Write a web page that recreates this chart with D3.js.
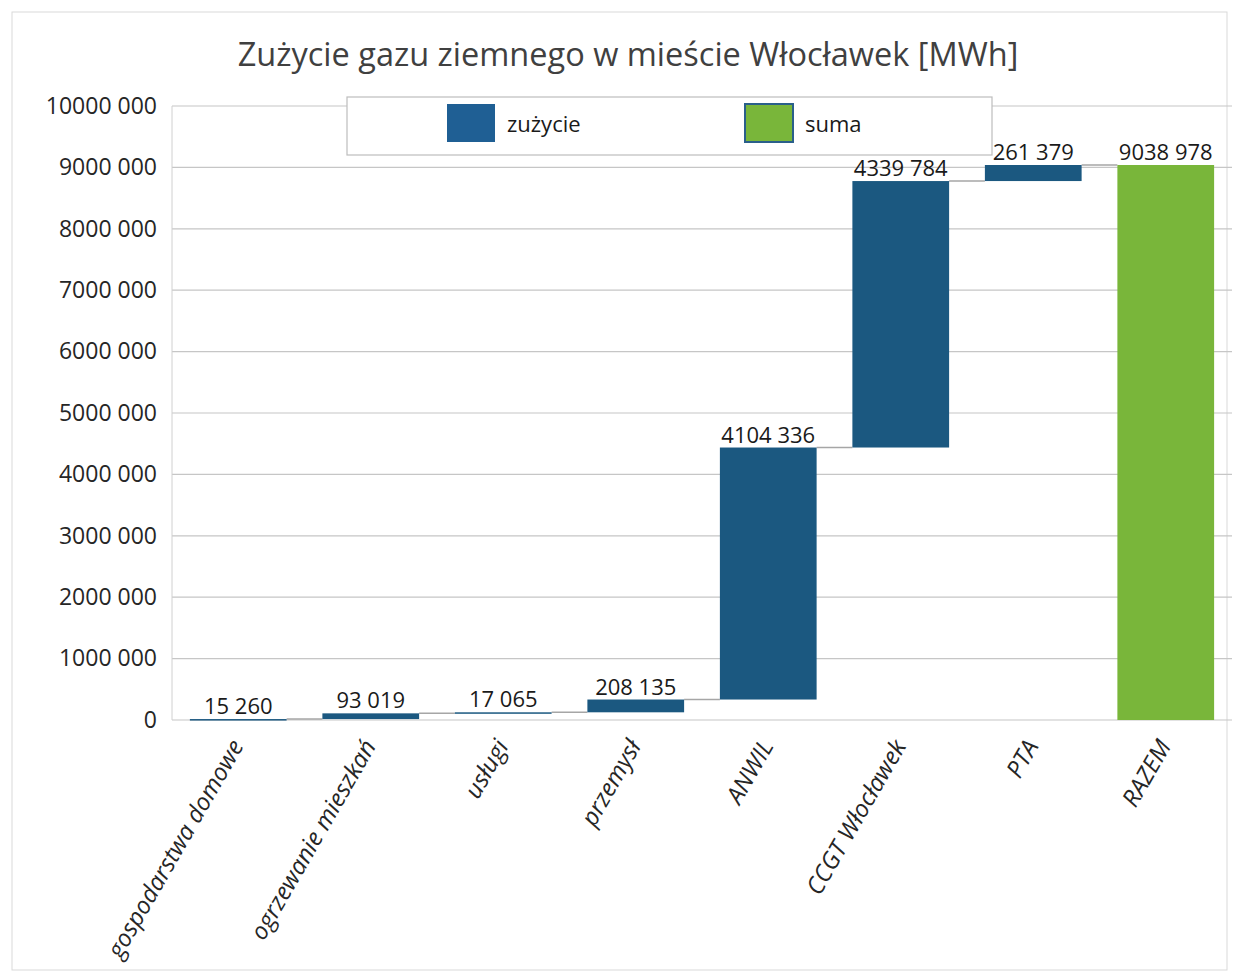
<!DOCTYPE html>
<html><head><meta charset="utf-8">
<script src="https://cdn.jsdelivr.net/npm/d3@7"></script>
<style>
html,body{margin:0;padding:0;background:#fff;}
svg{display:block;font-family:"Open Sans",sans-serif;}
</style></head>
<body>
<svg id="chart" width="1239" height="975"></svg>
<script>
const categories = ["gospodarstwa domowe","ogrzewanie mieszkań","usługi","przemysł","ANWIL","CCGT Włocławek","PTA","RAZEM"];
const values = [15260, 93019, 17065, 208135, 4104336, 4339784, 261379, 9038978];
const isTotal = [false,false,false,false,false,false,false,true];
const valueLabels = ["15 260","93 019","17 065","208 135","4104 336","4339 784","261 379","9038 978"];
const yTicks = [0,1000000,2000000,3000000,4000000,5000000,6000000,7000000,8000000,9000000,10000000];
const yTickLabels = ["0","1000 000","2000 000","3000 000","4000 000","5000 000","6000 000","7000 000","8000 000","9000 000","10000 000"];
const legendItems = ["zużycie","suma"];

const blue = "#1b5880", green = "#79b63a";
const svg = d3.select("#chart");
const m = {left:172, right:1232, top:106, bottom:720};

// outer frame
svg.append("rect").attr("x",12).attr("y",12).attr("width",1215).attr("height",958)
  .attr("fill","none").attr("stroke","#d9d9d9").attr("stroke-width",1);

const x = d3.scaleBand().domain(categories).range([m.left,m.right]).paddingInner(0.27).paddingOuter(0.135);
const y = d3.scaleLinear().domain([0,10000000]).range([m.bottom,m.top]);

// gridlines
svg.append("g").selectAll("line").data(yTicks).join("line")
  .attr("x1",m.left).attr("x2",m.right)
  .attr("y1",d=>y(d)).attr("y2",d=>y(d))
  .attr("stroke","#c6c6c6").attr("stroke-width",1.2);
svg.append("line").attr("x1",m.left).attr("x2",m.left).attr("y1",m.top).attr("y2",m.bottom)
  .attr("stroke","#d0d0d0");

// y axis labels
const yAxis = d3.axisLeft(y).tickValues(yTicks).tickFormat((d,i)=>yTickLabels[i]).tickSize(0).tickPadding(15);
const gy = svg.append("g").attr("transform",`translate(${m.left},0)`).call(yAxis);
gy.select(".domain").remove();
gy.selectAll("text").attr("font-size",23).attr("fill","#262626").attr("font-family","'Open Sans',sans-serif");

// waterfall compute
let run = 0;
const bars = categories.map((c,i)=>{
  let lo, hi;
  if (isTotal[i]) { lo = 0; hi = values[i]; }
  else { lo = run; hi = run + values[i]; run = hi; }
  return {c, lo, hi, total:isTotal[i], label:valueLabels[i]};
});

// connectors
svg.append("g").selectAll("line").data(bars.slice(0,-1)).join("line")
  .attr("x1",(d)=>x(d.c)+x.bandwidth())
  .attr("x2",(d,i)=>x(bars[i+1].c))
  .attr("y1",d=>y(d.hi)).attr("y2",d=>y(d.hi))
  .attr("stroke","#a6a6a6").attr("stroke-width",1.5);

// bars
svg.append("g").selectAll("rect").data(bars).join("rect")
  .attr("x",d=>x(d.c)).attr("width",x.bandwidth())
  .attr("y",d=>y(d.hi)).attr("height",d=>Math.max(1.5,y(d.lo)-y(d.hi)))
  .attr("fill",d=>d.total?green:blue);

// value labels
svg.append("g").selectAll("text").data(bars).join("text")
  .attr("x",d=>x(d.c)+x.bandwidth()/2).attr("y",d=>y(d.hi)-5)
  .attr("text-anchor","middle").attr("font-size",22).attr("fill","#1a1a1a")
  .text(d=>d.label);

// x axis labels
const xAxis = d3.axisBottom(x).tickSize(0).tickPadding(0);
const gx = svg.append("g").attr("transform",`translate(0,${m.bottom})`).call(xAxis);
gx.select(".domain").remove();
gx.selectAll("text").attr("font-size",24).attr("fill","#262626").attr("font-style","italic")
  .attr("font-family","'Open Sans',sans-serif")
  .attr("text-anchor","end").attr("dy",0)
  .attr("transform","translate(6,26) rotate(-60)");

// title
svg.append("text").attr("x",628).attr("y",66).attr("text-anchor","middle")
  .attr("font-size",32.5).attr("fill","#404040").text("Zużycie gazu ziemnego w mieście Włocławek [MWh]");

// legend
const lg = svg.append("g");
lg.append("rect").attr("x",347).attr("y",97).attr("width",645).attr("height",58)
  .attr("fill","#fff").attr("stroke","#bdbdbd").attr("stroke-width",1.2);
const legX = [447, 745];
lg.selectAll("rect.sw").data(legendItems).join("rect").attr("class","sw")
  .attr("x",(d,i)=>legX[i]).attr("y",104).attr("width",48).attr("height",38)
  .attr("fill",(d,i)=>i?green:"#1f5f94").attr("stroke",(d,i)=>i?"#2a5f8a":"none").attr("stroke-width",2);
lg.selectAll("text").data(legendItems).join("text")
  .attr("x",(d,i)=>legX[i]+60).attr("y",132).attr("font-size",22).attr("fill","#1a1a1a").text(d=>d);
</script>
</body></html>
